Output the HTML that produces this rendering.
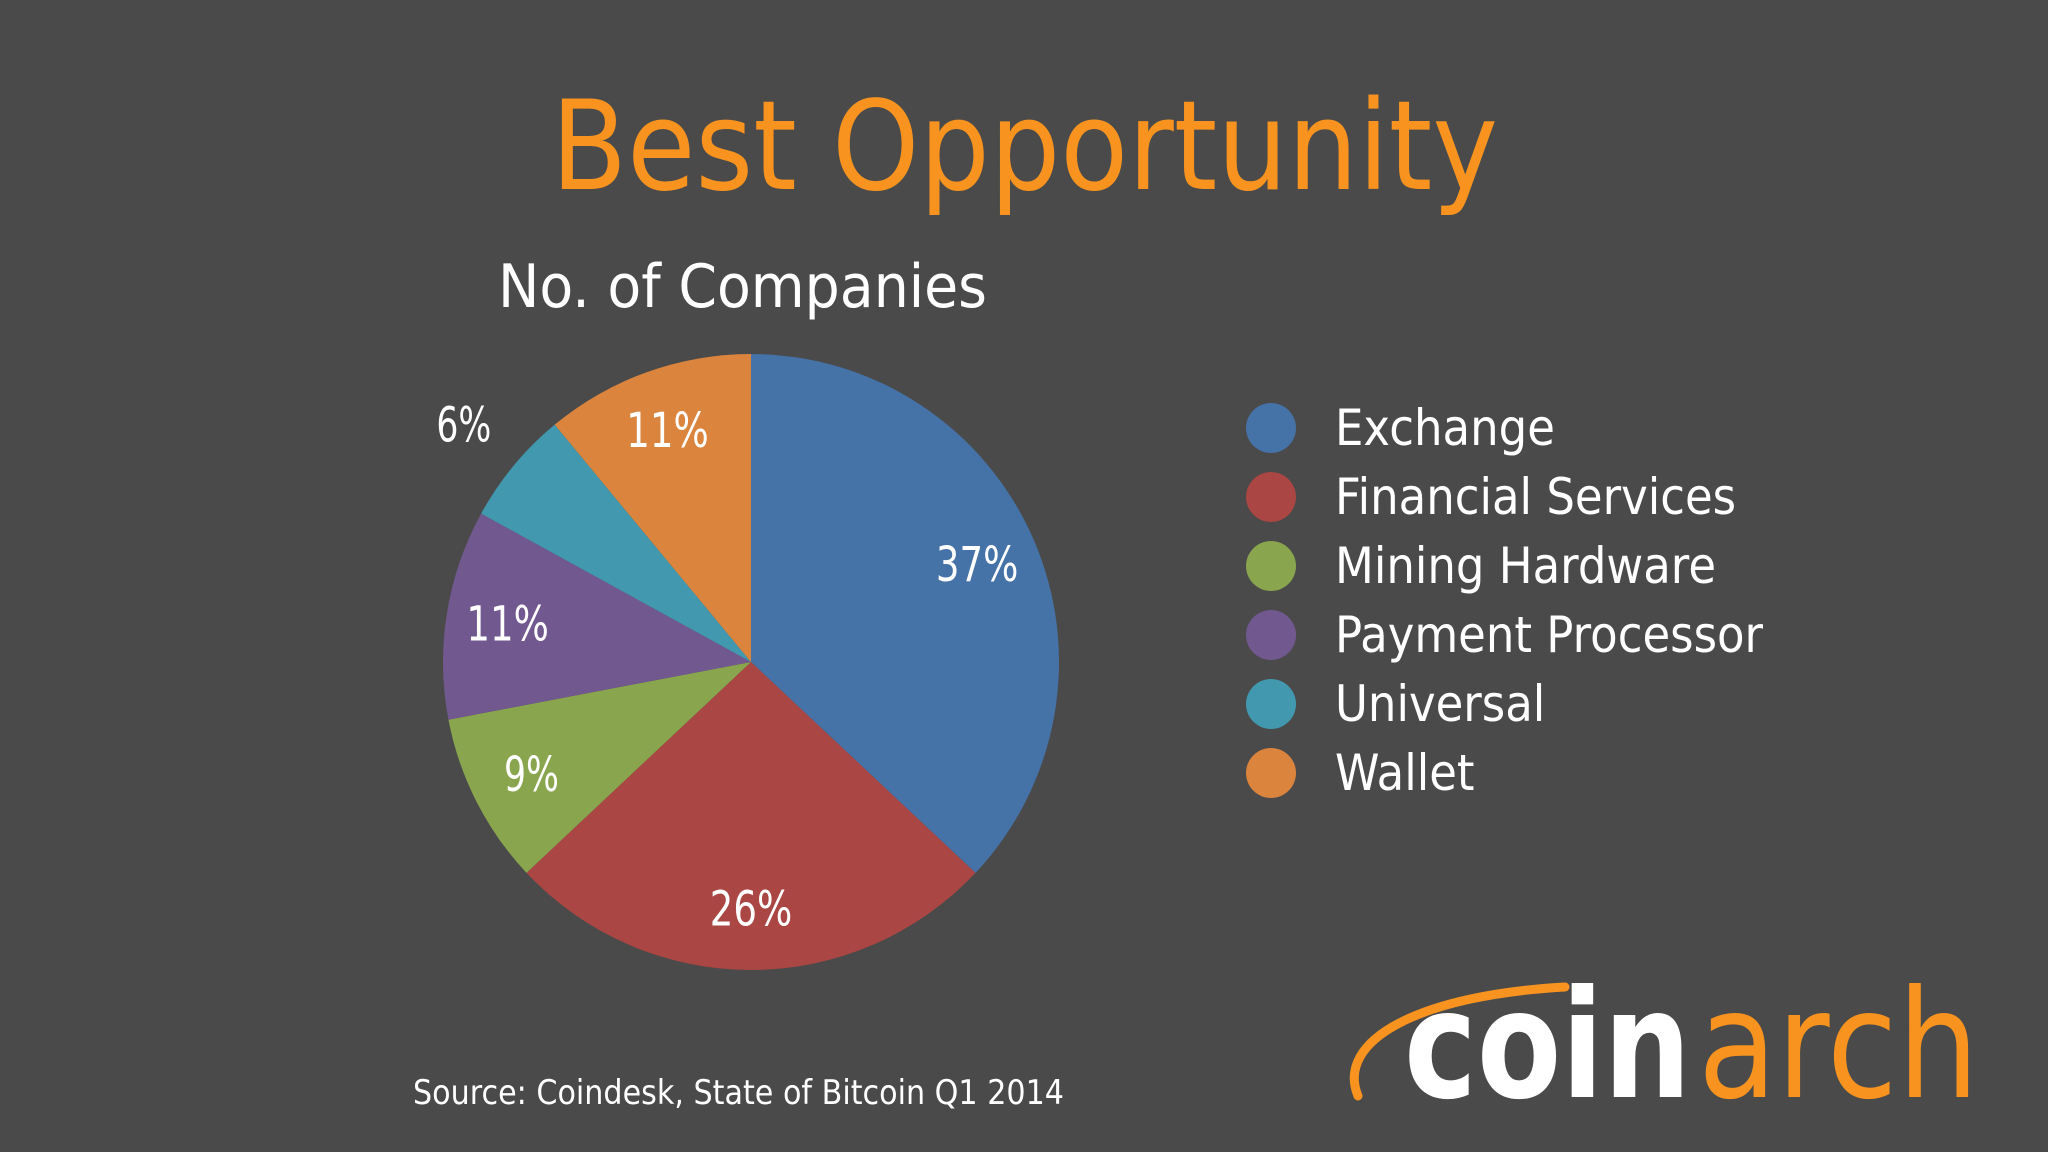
<!DOCTYPE html>
<html><head><meta charset="utf-8"><style>
html,body{margin:0;padding:0;background:#4a4a4a;width:2048px;height:1152px;overflow:hidden}
svg{display:block}
text{font-family:"DejaVu Sans","Liberation Sans",sans-serif}
</style></head><body>
<svg id="chart" width="2048" height="1152" viewBox="0 0 2048 1152" xmlns="http://www.w3.org/2000/svg">
<rect width="2048" height="1152" fill="#4a4a4a"/>
<text x="551" y="189" font-size="124" fill="#F7931E" textLength="947" lengthAdjust="spacingAndGlyphs">Best Opportunity</text>
<text x="498" y="307" font-size="60" fill="#fff" textLength="489" lengthAdjust="spacingAndGlyphs">No. of Companies</text>
<g id="pie"></g>
<g id="legend"></g>
<text x="413" y="1104" font-size="34" fill="#fff" textLength="651" lengthAdjust="spacingAndGlyphs">Source: Coindesk, State of Bitcoin Q1 2014</text>
<g>
<path d="M1358 1096 C1335 1040 1420 995 1565 987" fill="none" stroke="#F7931E" stroke-width="9" stroke-linecap="round"/>
<text x="1404" y="1097" font-size="150" font-weight="bold" fill="#fff" textLength="287" lengthAdjust="spacingAndGlyphs">coin</text>
<text x="1698" y="1097" font-size="150" fill="#F7931E" textLength="281" lengthAdjust="spacingAndGlyphs">arch</text>
</g>
</svg>
<script>
const categories=["Exchange","Financial Services","Mining Hardware","Payment Processor","Universal","Wallet"];
const values=[37,26,9,11,6,11];
const valueLabels=["37%","26%","9%","11%","6%","11%"];
const colors=["#4572A7","#AA4643","#89A54E","#71588F","#4198AF","#DB843D"];
const NS="http://www.w3.org/2000/svg";
const cx=751,cy=662,r=308;
const total=values.reduce((a,b)=>a+b,0);
const pie=document.getElementById('pie');
function pt(a,rad){return [cx+rad*Math.sin(a),cy-rad*Math.cos(a)];}
let acc=0;
values.forEach((v,i)=>{
  const a0=acc/total*2*Math.PI; acc+=v; const a1=acc/total*2*Math.PI;
  const p0=pt(a0,r),p1=pt(a1,r);
  const path=document.createElementNS(NS,'path');
  path.setAttribute('d',`M${cx} ${cy} L${p0[0]} ${p0[1]} A${r} ${r} 0 ${a1-a0>Math.PI?1:0} 1 ${p1[0]} ${p1[1]} Z`);
  path.setAttribute('fill',colors[i]);
  
  
  pie.appendChild(path);
  const am=(a0+a1)/2;
  const lr = v<8 ? r*1.21 : r*0.8;
  const lp=pt(am,lr);
  const t=document.createElementNS(NS,'text');
  t.setAttribute('x',lp[0]);t.setAttribute('y',lp[1]+17);
  t.setAttribute('text-anchor','middle');t.setAttribute('font-size','48');t.setAttribute('fill','#fff');
  t.setAttribute('textLength',valueLabels[i].length*27.5);
  t.setAttribute('lengthAdjust','spacingAndGlyphs');
  t.textContent=valueLabels[i];
  
  
  pie.appendChild(t);
});
const legend=document.getElementById('legend');
categories.forEach((c,i)=>{
  const y=428+i*69;
  const g=document.createElementNS(NS,'g');
  
  
  const ci=document.createElementNS(NS,'circle');
  ci.setAttribute('cx',1271);ci.setAttribute('cy',y);ci.setAttribute('r',25);ci.setAttribute('fill',colors[i]);
  g.appendChild(ci);
  const t=document.createElementNS(NS,'text');
  t.setAttribute('x',1335);t.setAttribute('y',y+17);t.setAttribute('font-size','50');t.setAttribute('fill','#fff');
  t.textContent=c;
  g.appendChild(t);
  legend.appendChild(g);
  const w=t.getComputedTextLength();
  t.setAttribute('textLength',w*0.9);
  t.setAttribute('lengthAdjust','spacingAndGlyphs');
});
</script>
</body></html>
